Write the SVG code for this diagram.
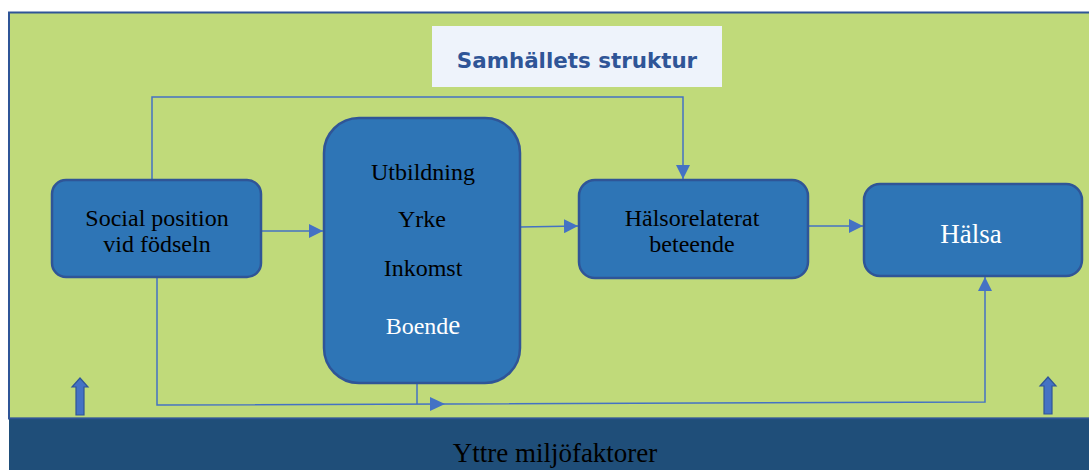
<svg xmlns="http://www.w3.org/2000/svg" width="1089" height="470" viewBox="0 0 1089 470">
<style>
.node{fill:#2E75B6;stroke:#2F5597;stroke-width:2.5}
.t{font-family:"Liberation Serif",serif;font-size:24px;fill:#000;text-anchor:middle}
.w{fill:#fff}
.c{fill:none;stroke:#4472C4;stroke-width:1.5}
.blk{fill:#4472C4;stroke:#2F5597;stroke-width:1.2}
</style>
<defs>
<marker id="ah" viewBox="0 0 10 10" refX="10" refY="5" markerWidth="14" markerHeight="14" markerUnits="userSpaceOnUse" orient="auto">
<path d="M0,0 L10,5 L0,10 z" fill="#4472C4"/>
</marker>
</defs>
<rect width="1089" height="470" fill="#fff"/>
<g id="background">
<rect x="9" y="12.5" width="1090" height="406" fill="#C0DA7A" stroke="#2F5597" stroke-width="2"/>
<rect x="9" y="418" width="1090" height="53" fill="#1F4E79"/>
<line x1="9" y1="418.5" x2="1089" y2="418.5" stroke="#2F5597" stroke-width="1.5"/>
<text x="555" y="462" font-family="'Liberation Serif',serif" font-size="27" fill="#000" text-anchor="middle">Yttre miljöfaktorer</text>
</g>
<g id="title">
<rect x="432" y="26" width="290" height="61" fill="#EEF3FB"/>
<text x="577" y="68" font-family="'DejaVu Sans',sans-serif" font-weight="bold" font-size="21.4" fill="#2F5597" text-anchor="middle">Samhällets struktur</text>
</g>
<g id="connectors">
<path class="c" d="M152,180 V97 H683 V179" marker-end="url(#ah)"/>
<path class="c" d="M261,231 H323" marker-end="url(#ah)"/>
<path class="c" d="M520,227 L578,226" marker-end="url(#ah)"/>
<path class="c" d="M808,226 L863,226" marker-end="url(#ah)"/>
<path class="c" d="M157,277 V405 L985,402 V277" marker-end="url(#ah)"/>
<path class="c" d="M417,383 V404"/>
<path d="M430,397 L445,404 L430,411 z" fill="#4472C4"/>
</g>
<g id="social">
<rect class="node" x="52" y="180" width="209" height="97" rx="14"/>
<text class="t" x="157" y="226">Social position</text>
<text class="t" x="157" y="252">vid födseln</text>
</g>
<g id="middle">
<rect class="node" x="324" y="118" width="196" height="265" rx="35"/>
<text class="t" x="423" y="180">Utbildning</text>
<text class="t" x="422" y="227">Yrke</text>
<text class="t" x="423" y="276">Inkomst</text>
<text class="t w" x="423" y="334">Boend<tspan style="font-size:27px">e</tspan></text>
</g>
<g id="beteende">
<rect class="node" x="579" y="180" width="229" height="98" rx="16"/>
<text class="t" x="692" y="226">Hälsorelaterat</text>
<text class="t" x="692" y="252">beteende</text>
</g>
<g id="halsa">
<rect class="node" x="864" y="184" width="218" height="92" rx="16"/>
<text class="t w" x="971" y="243" style="font-size:27px">Hälsa</text>
</g>
<g id="block-arrows">
<path class="blk" d="M76,415 V387 H72 L80,378 L88,387 H84 V415 z"/>
<path class="blk" d="M1044,414 V386 H1040 L1048,377 L1056,386 H1052 V414 z"/>
</g>
</svg>
